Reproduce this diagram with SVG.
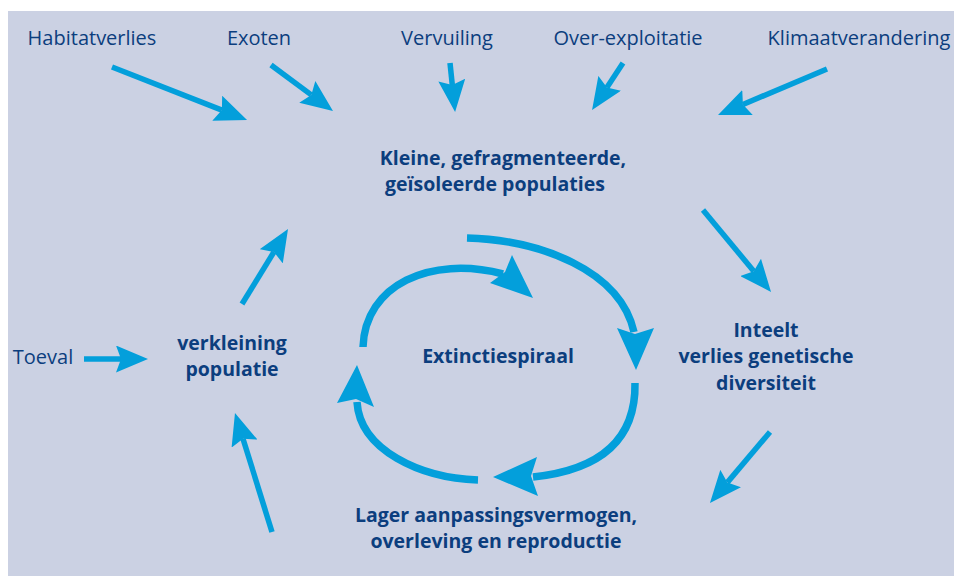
<svg xmlns="http://www.w3.org/2000/svg" width="954" height="576" viewBox="0 0 954 576">
<style>
.bg{fill:#CBD1E3}
.t{font-family:"Open Sans","Liberation Sans",sans-serif;fill:#0C3E7E;text-anchor:middle}
.r{font-size:20px}
.b{font-size:19.5px;font-weight:700}
.a{fill:none;stroke:#039FDB;stroke-width:5.5}
.s{fill:none;stroke:#039FDB;stroke-width:7.5}
.h{fill:#039FDB}
</style>
<defs>
<marker id="ah" markerUnits="userSpaceOnUse" markerWidth="32" markerHeight="27" viewBox="0 0 32 27" refX="5" refY="13.5" orient="auto">
<path d="M0,0 L32,13.5 L0,27 L5,13.5 Z" fill="#039FDB"/>
</marker>
</defs>
<rect class="bg" x="8" y="11" width="946" height="565"/>
<g id="connectors">
<path class="a" d="M112,67 L221.9,110.1" marker-end="url(#ah)"/>
<path class="a" d="M271,65 L311.3,94.9" marker-end="url(#ah)"/>
<path class="a" d="M450,63 L452.3,85.1" marker-end="url(#ah)"/>
<path class="a" d="M623,63 L606.9,87.5" marker-end="url(#ah)"/>
<path class="a" d="M827,69 L742.9,104.5" marker-end="url(#ah)"/>
<path class="a" d="M703,210 L753.8,271.2" marker-end="url(#ah)"/>
<path class="a" d="M770,432 L727.4,482.4" marker-end="url(#ah)"/>
<path class="a" d="M272,532 L243,438.8" marker-end="url(#ah)"/>
<path class="a" d="M84,359 L121,359" marker-end="url(#ah)"/>
<path class="a" d="M242,304 L273.9,252" marker-end="url(#ah)"/>
<path class="s" d="M363,347 C365,285 430,255 503,274"/>
<polygon class="h" points="512,255 533,298 490,283 505,272"/>
<path class="s" d="M467,238 C540,240 620,270 634,332"/>
<polygon class="h" points="617,328 636,370 654,328 635,334"/>
<path class="s" d="M635,383 C636,440 600,470 533,477"/>
<polygon class="h" points="537,457 493,477 538,496 531,476"/>
<path class="s" d="M478,480 C420,478 360,450 357,402"/>
<polygon class="h" points="374,407 357,365 337,403 356,399"/>
</g>
<g id="n-habitatverlies"><text class="t r" x="92" y="45">Habitatverlies</text></g>
<g id="n-exoten"><text class="t r" x="259" y="45">Exoten</text></g>
<g id="n-vervuiling"><text class="t r" x="447" y="45">Vervuiling</text></g>
<g id="n-overexploitatie"><text class="t r" x="628" y="45">Over-exploitatie</text></g>
<g id="n-klimaat"><text class="t r" x="859" y="45">Klimaatverandering</text></g>
<g id="n-toeval"><text class="t r" x="43" y="364">Toeval</text></g>
<g id="n-kleine"><text class="t b" x="503" y="165">Kleine, gefragmenteerde,</text><text class="t b" x="495" y="191">geïsoleerde populaties</text></g>
<g id="n-inteelt"><text class="t b" x="766" y="337">Inteelt</text><text class="t b" x="766" y="363">verlies genetische</text><text class="t b" x="766" y="390">diversiteit</text></g>
<g id="n-lager"><text class="t b" x="496" y="522">Lager aanpassingsvermogen,</text><text class="t b" x="496" y="548">overleving en reproductie</text></g>
<g id="n-verkleining"><text class="t b" x="232" y="350">verkleining</text><text class="t b" x="232" y="376">populatie</text></g>
<g id="n-extinctie"><text class="t b" x="498" y="363">Extinctiespiraal</text></g>
</svg>
